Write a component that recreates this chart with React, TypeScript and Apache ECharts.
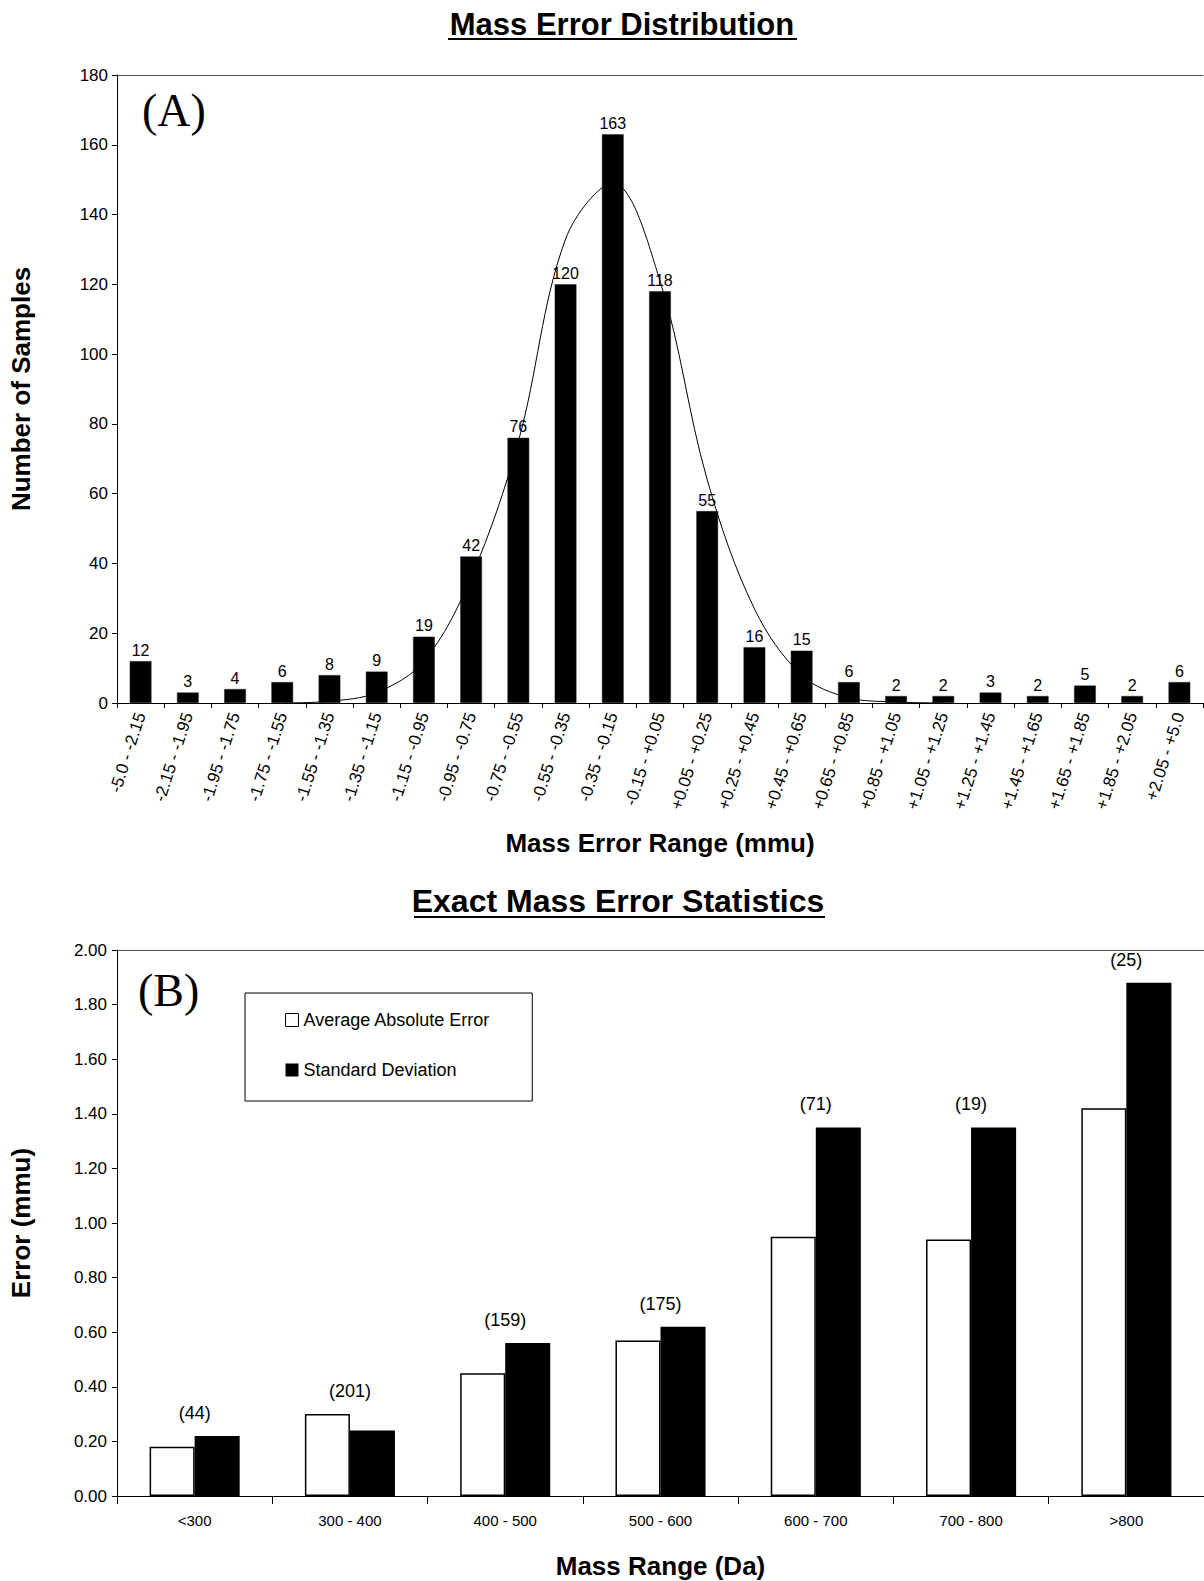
import React, { useEffect, useRef } from "react";
import * as echarts from "echarts";

// ---- Panel A data ----
const rangeCategories = [
  "-5.0 - -2.15", "-2.15 - -1.95", "-1.95 - -1.75", "-1.75 - -1.55", "-1.55 - -1.35",
  "-1.35 - -1.15", "-1.15 - -0.95", "-0.95 - -0.75", "-0.75 - -0.55", "-0.55 - -0.35",
  "-0.35 - -0.15", "-0.15 - +0.05", "+0.05 - +0.25", "+0.25 - +0.45", "+0.45 - +0.65",
  "+0.65 - +0.85", "+0.85 - +1.05", "+1.05 - +1.25", "+1.25 - +1.45", "+1.45 - +1.65",
  "+1.65 - +1.85", "+1.85 - +2.05", "+2.05 - +5.0",
];
const sampleCounts = [12, 3, 4, 6, 8, 9, 19, 42, 76, 120, 163, 118, 55, 16, 15, 6, 2, 2, 3, 2, 5, 2, 6];
// fitted curve at each category centre
const fittedCurve: (number | null)[] = [
  null, null, null, 0, 0.5, 3, 12, 36, 75, 133, 149, 121, 64, 27, 8, 1.5, 0.3, 0,
  null, null, null, null, null,
];

// ---- Panel B data ----
const massCategories = ["<300", "300 - 400", "400 - 500", "500 - 600", "600 - 700", "700 - 800", ">800"];
const avgAbsError = [0.18, 0.30, 0.45, 0.57, 0.95, 0.94, 1.42];
const stdDeviation = [0.22, 0.24, 0.56, 0.62, 1.35, 1.35, 1.88];
const sampleN = [44, 201, 159, 175, 71, 19, 25];

const SANS = 'Arial, "Liberation Sans", Helvetica, sans-serif';
const SERIF = '"Liberation Serif", "Times New Roman", Times, serif';

export default function App() {
  const ref = useRef<HTMLDivElement>(null);

  useEffect(() => {
    document.body.style.margin = "0";
    if (!ref.current) return;
    const chart = echarts.init(ref.current, null, { renderer: "svg" });

    const axisLine = { show: true, lineStyle: { color: "#000", width: 1 } };
    const nameStyle = { fontSize: 26, fontWeight: "bold", color: "#000", fontFamily: SANS };

    const labelTops = avgAbsError.map((v, i) => Math.max(v, stdDeviation[i]));

    const option: any = {
      animation: false,
      backgroundColor: "#fff",
      textStyle: { fontFamily: SANS, color: "#000" },
      grid: [
        { left: 115, right: 1, top: 75, height: 628 },
        { left: 114, right: -4, top: 950, height: 546 },
      ],
      xAxis: [
        {
          type: "category",
          gridIndex: 0,
          data: rangeCategories,
          axisLine,
          axisTick: { show: true, length: 5, lineStyle: { color: "#000" } },
          axisLabel: { rotate: 72, fontSize: 17, color: "#000", margin: 10, interval: 0, fontFamily: SANS },
          name: "Mass Error Range (mmu)",
          nameLocation: "middle",
          nameGap: 127,
          nameTextStyle: nameStyle,
        },
        {
          type: "category",
          gridIndex: 0,
          position: "top",
          data: rangeCategories,
          axisLine: { show: true, lineStyle: { color: "#555", width: 1 } },
          axisTick: { show: false },
          axisLabel: { show: false },
        },
        {
          type: "category",
          gridIndex: 1,
          data: massCategories,
          axisLine,
          axisTick: { show: true, length: 8, lineStyle: { color: "#000" } },
          axisLabel: { fontSize: 15, color: "#000", margin: 17, interval: 0, fontFamily: SANS },
          name: "Mass Range (Da)",
          nameLocation: "middle",
          nameGap: 57,
          nameTextStyle: nameStyle,
        },
        {
          type: "category",
          gridIndex: 1,
          position: "top",
          data: massCategories,
          axisLine: { show: true, lineStyle: { color: "#555", width: 1 } },
          axisTick: { show: false },
          axisLabel: { show: false },
        },
      ],
      yAxis: [
        {
          type: "value",
          gridIndex: 0,
          min: 0,
          max: 180,
          interval: 20,
          axisLine,
          axisTick: { show: true, length: 5, lineStyle: { color: "#000" } },
          splitLine: { show: false },
          axisLabel: { fontSize: 17, color: "#000", margin: 9, fontFamily: SANS },
          name: "Number of Samples",
          nameLocation: "middle",
          nameGap: 83,
          nameTextStyle: nameStyle,
        },
        {
          type: "value",
          gridIndex: 1,
          min: 0,
          max: 2,
          interval: 0.2,
          axisLine,
          axisTick: { show: true, length: 5, lineStyle: { color: "#000" } },
          splitLine: { show: false },
          axisLabel: {
            fontSize: 17,
            color: "#000",
            margin: 10,
            fontFamily: SANS,
            formatter: (v: number) => v.toFixed(2),
          },
          name: "Error (mmu)",
          nameLocation: "middle",
          nameGap: 83,
          nameTextStyle: nameStyle,
        },
      ],
      legend: {
        data: [
          { name: "Average Absolute Error", itemStyle: { color: "#fff", borderColor: "#000", borderWidth: 1 } },
          { name: "Standard Deviation", itemStyle: { color: "#000" } },
        ],
        orient: "vertical",
        left: 245,
        top: 993,
        icon: "rect",
        itemWidth: 13,
        itemHeight: 13,
        itemGap: 32,
        selectedMode: false,
        padding: [18, 42, 22, 40],
        borderColor: "#000",
        borderWidth: 1,
        textStyle: { fontSize: 18, color: "#000", fontFamily: SANS },
      },
      series: [
        {
          type: "line",
          xAxisIndex: 0,
          yAxisIndex: 0,
          data: fittedCurve,
          smooth: 0.35,
          showSymbol: false,
          symbol: "none",
          lineStyle: { color: "#000", width: 1 },
          z: 1,
          silent: true,
        },
        {
          type: "bar",
          xAxisIndex: 0,
          yAxisIndex: 0,
          data: sampleCounts,
          barWidth: "46%",
          itemStyle: { color: "#000", borderColor: "#222", borderWidth: 0.5 },
          label: { show: true, position: "top", distance: 3, fontSize: 16, color: "#000", fontFamily: SANS },
          z: 2,
        },
        {
          name: "Average Absolute Error",
          type: "bar",
          xAxisIndex: 2,
          yAxisIndex: 1,
          data: avgAbsError,
          barGap: "0%",
          barCategoryGap: "42%",
          itemStyle: { color: "#fff", borderColor: "#000", borderWidth: 1.5 },
        },
        {
          name: "Standard Deviation",
          type: "bar",
          xAxisIndex: 2,
          yAxisIndex: 1,
          data: stdDeviation,
          barGap: "0%",
          barCategoryGap: "42%",
          itemStyle: { color: "#000" },
        },
        {
          type: "scatter",
          xAxisIndex: 2,
          yAxisIndex: 1,
          data: labelTops,
          symbolSize: 0,
          silent: true,
          itemStyle: { opacity: 1, color: "#000" },
          label: {
            show: true,
            position: "top",
            distance: 14,
            fontSize: 18,
            color: "#000",
            opacity: 1,
            fontFamily: SANS,
            formatter: (p: any) => `(${sampleN[p.dataIndex]})`,
          },
        },
      ],
      graphic: [
        {
          type: "text",
          x: 622,
          y: 24,
          style: {
            text: "Mass Error Distribution",
            font: `bold 31px ${SANS}`,
            fill: "#000",
            textAlign: "center",
            textVerticalAlign: "middle",
          },
        },
        { type: "line", shape: { x1: 448, y1: 39, x2: 797, y2: 39 }, style: { stroke: "#000", lineWidth: 2 } },
        {
          type: "text",
          x: 618,
          y: 901,
          style: {
            text: "Exact Mass Error Statistics",
            font: `bold 32px ${SANS}`,
            fill: "#000",
            textAlign: "center",
            textVerticalAlign: "middle",
          },
        },
        { type: "line", shape: { x1: 414, y1: 917, x2: 825, y2: 917 }, style: { stroke: "#000", lineWidth: 2 } },
        {
          type: "text",
          x: 142,
          y: 110,
          style: { text: "(A)", font: `46px ${SERIF}`, fill: "#000", textVerticalAlign: "middle" },
        },
        {
          type: "text",
          x: 138,
          y: 990,
          style: { text: "(B)", font: `46px ${SERIF}`, fill: "#000", textVerticalAlign: "middle" },
        },
      ],
    };

    chart.setOption(option);
    return () => chart.dispose();
  }, []);

  return <div ref={ref} style={{ width: 1204, height: 1581 }} />;
}
